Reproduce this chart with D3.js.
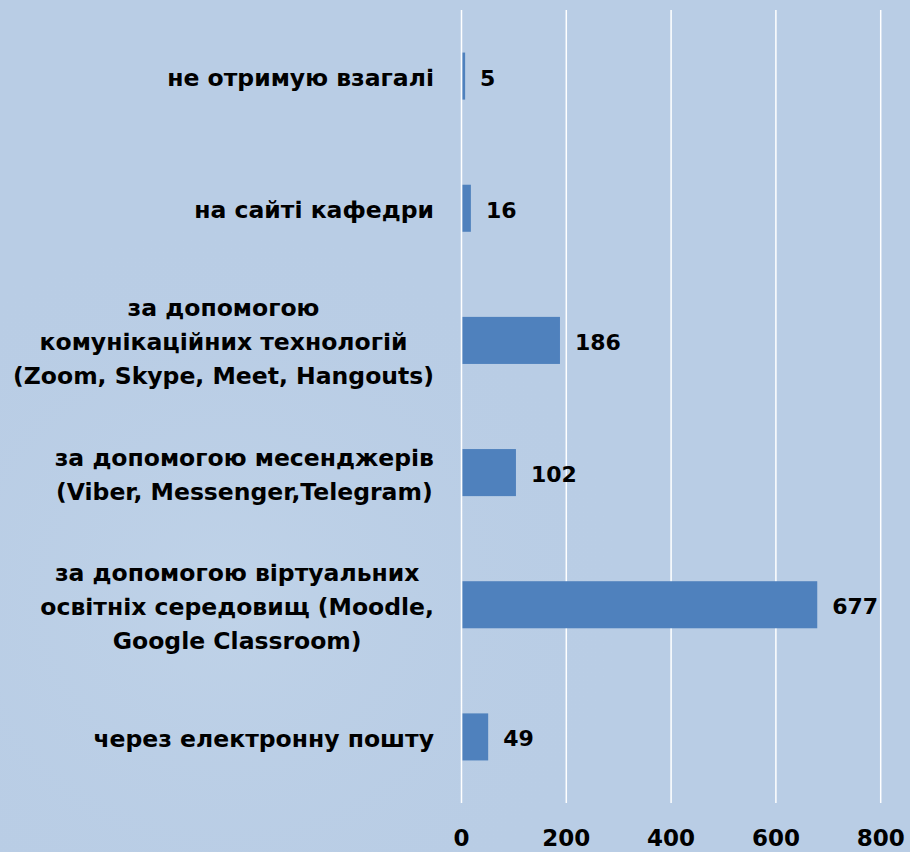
<!DOCTYPE html>
<html>
<head>
<meta charset="utf-8">
<script src="https://cdn.jsdelivr.net/npm/d3@7"></script>
<style>
  html, body { margin: 0; padding: 0; background: #b9cde5; }
  svg { display: block; }
</style>
</head>
<body>
<svg id="chart"></svg>
<script>
// data, top to bottom as drawn
const categories = [
  ['не отримую взагалі'],
  ['на сайті кафедри'],
  ['за допомогою', 'комунікаційних технологій', '(Zoom, Skype, Meet, Hangouts)'],
  ['за допомогою месенджерів', '(Viber, Messenger,Telegram)'],
  ['за допомогою віртуальних', 'освітніх середовищ (Moodle,', 'Google Classroom)'],
  ['через електронну пошту']
];
const values = [5, 16, 186, 102, 677, 49];
const xTicks = [0, 200, 400, 600, 800];

const width = 910;
const height = 852;
const fontFamily = '"Century Gothic", "DejaVu Sans", sans-serif';

const svg = d3.select('#chart')
  .attr('width', width)
  .attr('height', height)
  .attr('viewBox', [0, 0, width, height]);

// background with a faint lighter patch at lower left
const defs = svg.append('defs');
const grad = defs.append('radialGradient')
  .attr('id', 'bgGlow')
  .attr('cx', '0.25').attr('cy', '0.7').attr('r', '0.45');
grad.append('stop').attr('offset', '0%').attr('stop-color', '#c1d4e9').attr('stop-opacity', 0.8);
grad.append('stop').attr('offset', '100%').attr('stop-color', '#b9cde5').attr('stop-opacity', 0);

svg.append('rect').attr('width', width).attr('height', height).attr('fill', '#b9cde5');
svg.append('rect').attr('width', width).attr('height', height).attr('fill', 'url(#bgGlow)');

const x = d3.scaleLinear()
  .domain([0, 800])
  .range([461.5, 880.7]);

const y = d3.scaleBand()
  .domain(d3.range(categories.length))
  .range([10, 803])
  .paddingInner(0.644)
  .paddingOuter(0.322);

// gridlines
svg.append('g')
  .selectAll('line')
  .data(xTicks)
  .enter().append('line')
  .attr('x1', d => x(d))
  .attr('x2', d => x(d))
  .attr('y1', 10)
  .attr('y2', 803)
  .attr('stroke', '#ffffff')
  .attr('stroke-width', 1.5);

// bars
svg.append('g')
  .selectAll('rect')
  .data(values)
  .enter().append('rect')
  .attr('x', x(0) + 1)
  .attr('y', (d, i) => y(i))
  .attr('width', d => x(d) - x(0))
  .attr('height', y.bandwidth())
  .attr('fill', '#4f81bd');

// value labels
svg.append('g')
  .selectAll('text')
  .data(values)
  .enter().append('text')
  .attr('x', d => x(d) + 16)
  .attr('y', (d, i) => y(i) + y.bandwidth() / 2 + 2)
  .attr('dominant-baseline', 'central')
  .style('font-family', fontFamily)
  .style('font-weight', 'bold')
  .style('font-size', '22px')
  .style('fill', '#000')
  .text(d => d);

// category labels: block right-aligned, lines centred within it
const lineH = 34;
const labelRight = 434;
const catG = svg.append('g');
categories.forEach((lines, i) => {
  const cy = y(i) + y.bandwidth() / 2 + 2;
  const t = catG.append('text')
    .style('font-family', fontFamily)
    .style('font-weight', 'bold')
    .style('font-size', '23.5px')
    .style('fill', '#000')
    .attr('text-anchor', 'middle')
    .attr('dominant-baseline', 'central');
  const spans = lines.map((s, j) => t.append('tspan')
    .attr('y', cy + (j - (lines.length - 1) / 2) * lineH)
    .text(s));
  const blockW = d3.max(spans, s => s.node().getComputedTextLength());
  spans.forEach(s => s.attr('x', labelRight - blockW / 2));
});

// x axis tick labels
svg.append('g')
  .selectAll('text')
  .data(xTicks)
  .enter().append('text')
  .attr('x', d => x(d))
  .attr('y', 846)
  .attr('text-anchor', 'middle')
  .style('font-family', fontFamily)
  .style('font-weight', 'bold')
  .style('font-size', '23px')
  .style('fill', '#000')
  .text(d => d);
</script>
</body>
</html>
